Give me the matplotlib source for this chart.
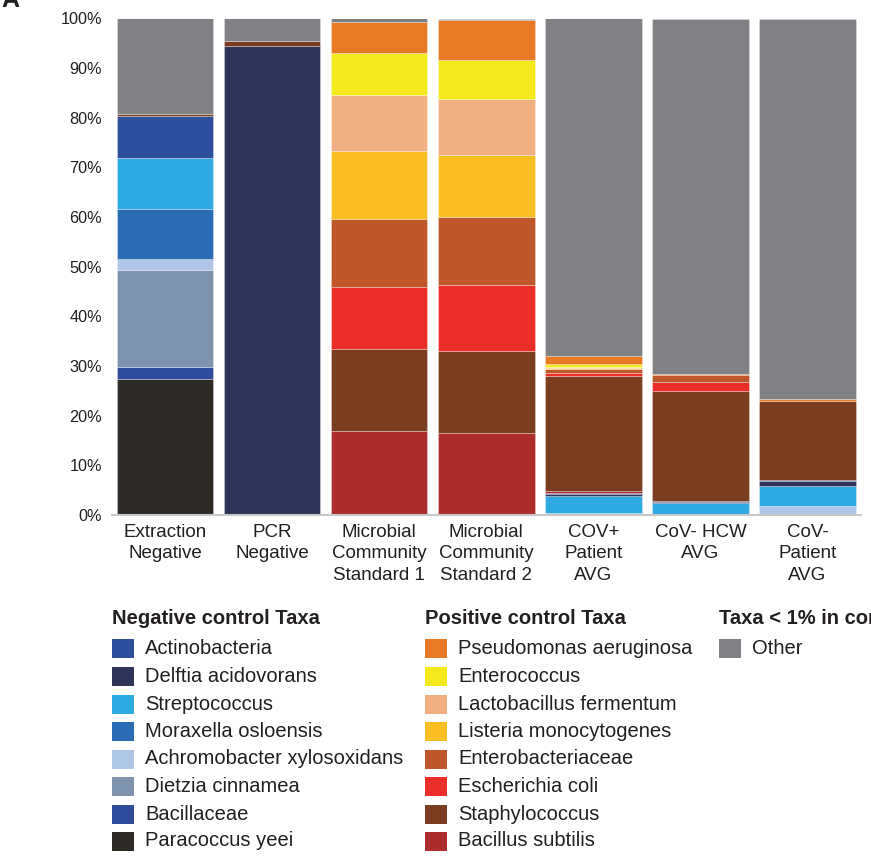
import matplotlib
matplotlib.use("Agg")
import matplotlib.pyplot as plt
from matplotlib.patches import Rectangle
import numpy as np

plt.rcParams['font.family'] = ['Liberation Sans', 'DejaVu Sans']

samples = ["Extraction\nNegative", "PCR\nNegative", "Microbial\nCommunity\nStandard 1",
           "Microbial\nCommunity\nStandard 2", "COV+\nPatient\nAVG", "CoV- HCW\nAVG",
           "CoV-\nPatient\nAVG"]

# values in % per sample, stacked bottom -> top in this order
paracoccus      = [27.4, 0.0, 0.0, 0.0, 0.0, 0.0, 0.0]
bacillaceae     = [2.5, 0.0, 0.0, 0.0, 0.0, 0.0, 0.0]
dietzia         = [19.5, 0.0, 0.0, 0.0, 0.0, 0.0, 0.0]
achromobacter   = [2.2, 0.0, 0.0, 0.0, 0.4, 0.0, 1.8]
moraxella       = [10.1, 0.0, 0.0, 0.0, 0.0, 0.0, 0.0]
streptococcus   = [10.3, 0.0, 0.0, 0.0, 3.5, 2.4, 4.1]
delftia         = [0.0, 94.4, 0.0, 0.0, 0.3, 0.2, 1.0]
actinobacteria  = [8.3, 0.0, 0.0, 0.0, 0.3, 0.15, 0.1]
bacillus_subt   = [0.0, 0.0, 16.9, 16.6, 0.3, 0.0, 0.0]
staphylococcus  = [0.5, 1.0, 16.6, 16.5, 23.2, 22.2, 15.9]
e_coli          = [0.0, 0.0, 12.5, 13.3, 0.7, 1.9, 0.0]
enterobacteria  = [0.0, 0.0, 13.7, 13.7, 0.8, 1.3, 0.0]
listeria        = [0.0, 0.0, 13.7, 12.5, 0.2, 0.0, 0.0]
lactobacillus   = [0.0, 0.0, 11.1, 11.1, 0.2, 0.0, 0.0]
enterococcus    = [0.0, 0.0, 8.6, 8.0, 0.5, 0.0, 0.0]
pseudomonas     = [0.0, 0.0, 6.2, 8.0, 1.6, 0.2, 0.4]
other           = [19.2, 4.6, 0.7, 0.3, 68.0, 71.65, 76.7]

stack = [
    (paracoccus, '#2D2A26'),
    (bacillaceae, '#2E4C9A'),
    (dietzia, '#7F93AE'),
    (achromobacter, '#AFC6E6'),
    (moraxella, '#2A6DB5'),
    (streptococcus, '#2DAAE1'),
    (delftia, '#2F3459'),
    (actinobacteria, '#2E4F9C'),
    (bacillus_subt, '#AC2D2C'),
    (staphylococcus, '#7A3D20'),
    (e_coli, '#EC2E29'),
    (enterobacteria, '#C0572A'),
    (listeria, '#F9BE22'),
    (lactobacillus, '#F2AF82'),
    (enterococcus, '#F4E91C'),
    (pseudomonas, '#E87A26'),
    (other, '#808184'),
]

neg_labels = ["Actinobacteria", "Delftia acidovorans", "Streptococcus", "Moraxella osloensis",
              "Achromobacter xylosoxidans", "Dietzia cinnamea", "Bacillaceae", "Paracoccus yeei"]
neg_colors = ['#2E4F9C', '#2F3459', '#2DAAE1', '#2A6DB5', '#AFC6E6', '#7F93AE', '#2E4C9A', '#2D2A26']
pos_labels = ["Pseudomonas aeruginosa", "Enterococcus", "Lactobacillus fermentum",
              "Listeria monocytogenes", "Enterobacteriaceae", "Escherichia coli",
              "Staphylococcus", "Bacillus subtilis"]
pos_colors = ['#E87A26', '#F4E91C', '#F2AF82', '#F9BE22', '#C0572A', '#EC2E29', '#7A3D20', '#AC2D2C']

TXT = '#231F20'
W, H = 871, 865
fig = plt.figure(figsize=(W / 100, H / 100), dpi=100)
ax = fig.add_axes([111.7 / W, 1 - 515 / H, (861 - 111.7) / W, (515 - 18.5) / H])

x = np.arange(len(samples))
bottom = np.zeros(len(samples))
for vals, col in stack:
    v = np.array(vals, dtype=float)
    ec = [(1, 1, 1, 0.35) if vi > 0 else (0, 0, 0, 0) for vi in v]
    ax.bar(x, v, bottom=bottom, width=0.9, color=col, edgecolor=ec, linewidth=0.6)
    bottom += v

ax.set_xlim(-0.5, 6.5)
ax.set_ylim(0, 100)
ax.set_yticks(np.arange(0, 101, 10))
ax.set_yticklabels([f"{t}%" for t in range(0, 101, 10)], fontsize=11.7, color=TXT)
ax.set_xticks(x)
ax.set_xticklabels(samples, fontsize=13.5, color=TXT, linespacing=1.33)
ax.tick_params(axis='both', length=0)
ax.tick_params(axis='y', pad=7)
ax.tick_params(axis='x', pad=6.5)
for s in ['top', 'right', 'left']:
    ax.spines[s].set_visible(False)
ax.spines['bottom'].set_color('#C8C8C8')
ax.spines['bottom'].set_linewidth(1.5)

# panel letter (cut off at top, as in the reference)
fig.text(0.002, 1 - 7 / H, "A", fontsize=18, fontweight='bold', color=TXT, va='baseline', ha='left')

# legend, drawn manually
def fx(px):
    return px / W

def fy(py):
    return 1 - py / H

row_y = [648, 676, 704, 731.5, 759, 786.5, 814, 841]
head_y = 619

def legend_col(x_sq, header, labels, colors):
    fig.text(fx(x_sq), fy(head_y), header, fontsize=14.5, fontweight='bold', color=TXT,
             va='center', ha='left')
    for yy, lab, col in zip(row_y, labels, colors):
        fig.add_artist(Rectangle((fx(x_sq), fy(yy + 9.5)), 22 / W, 19 / H, transform=fig.transFigure,
                                 facecolor=col, edgecolor='none'))
        fig.text(fx(x_sq + 33), fy(yy), lab, fontsize=14.5, color=TXT, va='center', ha='left')

legend_col(112, "Negative control Taxa", neg_labels, neg_colors)
legend_col(425, "Positive control Taxa", pos_labels, pos_colors)
legend_col(719, "Taxa < 1% in controls", ["Other"], ['#808184'])

fig.savefig("out.png", dpi=100)
